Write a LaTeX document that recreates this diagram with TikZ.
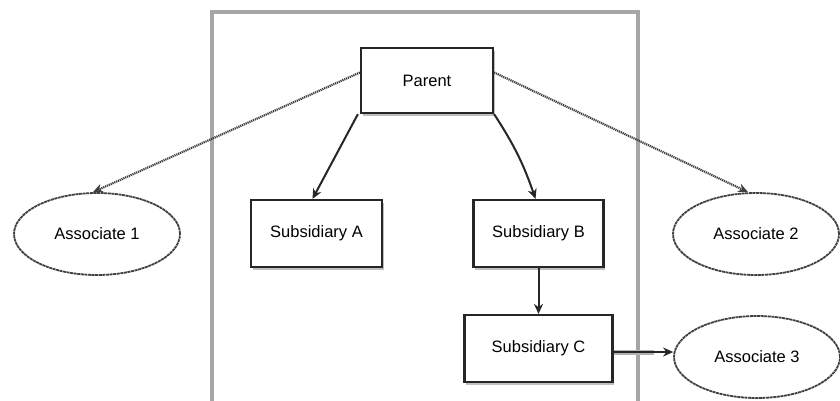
\documentclass[tikz,border=0pt]{standalone}
\usepackage{fontspec}
\setmainfont{Liberation Sans}
\usetikzlibrary{arrows.meta,shapes.geometric,shadows}
\begin{document}
\begin{tikzpicture}[x=1pt,y=-1pt,
  lbl/.style={font=\fontsize{16.5}{19}\selectfont},
  box/.style={draw=black!85,line width=2.2pt,fill=white,inner sep=0pt,lbl,
    drop shadow={shadow xshift=1.5pt,shadow yshift=-2.5pt,fill=black!25,opacity=1}},
  assoc/.style={ellipse,draw=black!75,line width=1.8pt,dash pattern=on 3pt off 0.6pt,minimum width=166pt,minimum height=82pt,inner sep=0pt,lbl},
  solidarrow/.style={draw=black!85,line width=2pt,-{Stealth[length=10pt,width=9pt]}},
  roughArrow/.style={draw=black!75,line width=2.2pt,dash pattern=on 1.2pt off 0.8pt,-{Stealth[length=10pt,width=9pt,line width=0pt]}}
]
\useasboundingbox (0,0) rectangle (840,400);
\fill[white] (0,0) rectangle (840,400);
% frame
\draw[black!35,line width=3.5pt] (212,402) -- (212,12) -- (638,12) -- (638,402);
% nodes
\node[box,minimum width=132pt,minimum height=65pt] (parent) at (427,80.5) {Parent};
\node[box,minimum width=131pt,minimum height=67pt] (subA) at (316.5,233.5) {Subsidiary A};
\node[box,minimum width=130pt,minimum height=67pt] (subB) at (538.5,233.5) {Subsidiary B};
\node[box,minimum width=148pt,minimum height=67pt] (subC) at (538.5,348.5) {Subsidiary C};
\node[assoc] (as1) at (97,234) {Associate 1};
\node[assoc] (as2) at (756,234) {Associate 2};
\node[assoc] (as3) at (757,357) {Associate 3};
% connectors
\coordinate (pw) at ([yshift=8pt]parent.west);
\coordinate (pe) at ([yshift=8pt]parent.east);
\coordinate (ce) at ([yshift=-3.5pt]subC.east);
\coordinate (cg) at ([xshift=40pt]ce);
\coordinate (ae) at ([yshift=5pt]as3.west);
\draw[roughArrow] (pw) -- ([xshift=-4pt]as1.north);
\draw[roughArrow] (pe) -- ([xshift=-8pt]as2.north);
\draw[solidarrow] ([xshift=-2pt]parent.south west) -- ([xshift=-4pt]subA.north);
\draw[solidarrow] (parent.south east) to[bend left=7] ([xshift=-3pt]subB.north);
\draw[solidarrow] (subB.south) -- (subC.north);
\draw[black!30,line width=5pt] (ce) -- (cg);
\draw[solidarrow] (ce) -- (ae);
\end{tikzpicture}
\end{document}
